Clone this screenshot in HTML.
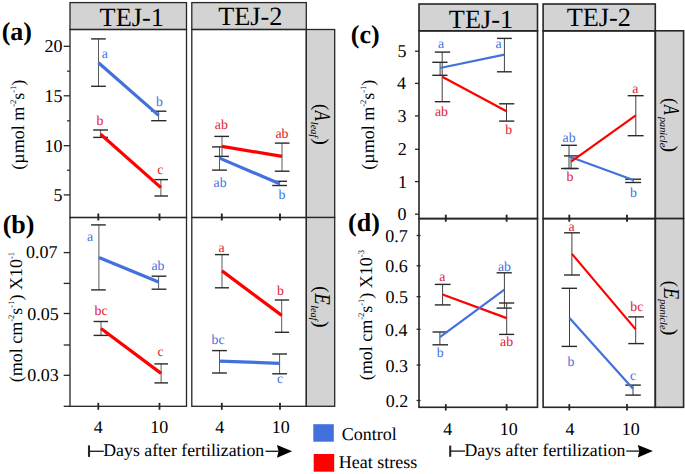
<!DOCTYPE html>
<html><head><meta charset="utf-8"><style>
html,body{margin:0;padding:0;background:#fff;width:685px;height:474px;overflow:hidden;}
svg{display:block;}
text{font-family:"Liberation Serif",serif;text-rendering:geometricPrecision;}
</style></head><body>
<svg width="685" height="474" viewBox="0 0 685 474">
<rect x="70" y="2.6" width="116.5" height="26.9" fill="#d3d3d3" stroke="#262626" stroke-width="1.3"/>
<rect x="191.8" y="2.6" width="114.5" height="26.9" fill="#d3d3d3" stroke="#262626" stroke-width="1.3"/>
<rect x="306.3" y="29.5" width="28.4" height="188" fill="#d3d3d3" stroke="#262626" stroke-width="1.3"/>
<rect x="306.3" y="217.5" width="28.4" height="188.8" fill="#d3d3d3" stroke="#262626" stroke-width="1.3"/>
<rect x="70" y="29.5" width="116.5" height="188" fill="none" stroke="#262626" stroke-width="1.3"/>
<rect x="70" y="217.5" width="116.5" height="188.8" fill="none" stroke="#262626" stroke-width="1.3"/>
<rect x="191.8" y="29.5" width="114.5" height="188" fill="none" stroke="#262626" stroke-width="1.3"/>
<rect x="191.8" y="217.5" width="114.5" height="188.8" fill="none" stroke="#262626" stroke-width="1.3"/>
<rect x="419" y="4" width="118.5" height="26.8" fill="#d3d3d3" stroke="#262626" stroke-width="1.6"/>
<rect x="543.1" y="4" width="112.2" height="26.8" fill="#d3d3d3" stroke="#262626" stroke-width="1.6"/>
<rect x="655.3" y="30.8" width="28.3" height="187.8" fill="#d3d3d3" stroke="#262626" stroke-width="1.6"/>
<rect x="655.3" y="218.6" width="28.3" height="188.7" fill="#d3d3d3" stroke="#262626" stroke-width="1.6"/>
<rect x="419" y="30.8" width="118.5" height="187.8" fill="none" stroke="#262626" stroke-width="1.6"/>
<rect x="419" y="218.6" width="118.5" height="188.7" fill="none" stroke="#262626" stroke-width="1.6"/>
<rect x="543.1" y="30.8" width="112.2" height="187.8" fill="none" stroke="#262626" stroke-width="1.6"/>
<rect x="543.1" y="218.6" width="112.2" height="188.7" fill="none" stroke="#262626" stroke-width="1.6"/>
<text x="99.62" y="26.4" font-size="26.3">TEJ-1</text>
<text x="218.22" y="24.7" font-size="26.3">TEJ-2</text>
<text x="448.82" y="28" font-size="26.3">TEJ-1</text>
<text x="566.72" y="25.9" font-size="26.3">TEJ-2</text>
<line x1="63.7" y1="46.3" x2="70" y2="46.3" stroke="#262626" stroke-width="1.3"/>
<text x="44.59" y="52.3" font-size="18">20</text>
<line x1="63.7" y1="95.8" x2="70" y2="95.8" stroke="#262626" stroke-width="1.3"/>
<text x="44.6" y="101.8" font-size="18">15</text>
<line x1="63.7" y1="145.7" x2="70" y2="145.7" stroke="#262626" stroke-width="1.3"/>
<text x="44.59" y="151.7" font-size="18">10</text>
<line x1="63.7" y1="194.9" x2="70" y2="194.9" stroke="#262626" stroke-width="1.3"/>
<text x="53.6" y="200.9" font-size="18">5</text>
<line x1="67" y1="71.2" x2="70" y2="71.2" stroke="#262626" stroke-width="1.2"/>
<line x1="67" y1="120.8" x2="70" y2="120.8" stroke="#262626" stroke-width="1.2"/>
<line x1="67" y1="170.2" x2="70" y2="170.2" stroke="#262626" stroke-width="1.2"/>
<line x1="63.7" y1="252.6" x2="70" y2="252.6" stroke="#262626" stroke-width="1.3"/>
<line x1="63.7" y1="283.4" x2="70" y2="283.4" stroke="#262626" stroke-width="1.3"/>
<line x1="63.7" y1="313.5" x2="70" y2="313.5" stroke="#262626" stroke-width="1.3"/>
<text x="27.2" y="319.5" font-size="18">0.05</text>
<line x1="63.7" y1="345" x2="70" y2="345" stroke="#262626" stroke-width="1.3"/>
<line x1="63.7" y1="375.3" x2="70" y2="375.3" stroke="#262626" stroke-width="1.3"/>
<text x="27.2" y="381.3" font-size="18">0.03</text>
<line x1="63.7" y1="406.3" x2="70" y2="406.3" stroke="#262626" stroke-width="1.3"/>
<line x1="415" y1="51.2" x2="419" y2="51.2" stroke="#262626" stroke-width="1.3"/>
<text x="397.5" y="57.2" font-size="18">5</text>
<line x1="415" y1="83.4" x2="419" y2="83.4" stroke="#262626" stroke-width="1.3"/>
<text x="397.08" y="89.4" font-size="18">4</text>
<line x1="415" y1="115.9" x2="419" y2="115.9" stroke="#262626" stroke-width="1.3"/>
<text x="397.5" y="121.9" font-size="18">3</text>
<line x1="415" y1="149.3" x2="419" y2="149.3" stroke="#262626" stroke-width="1.3"/>
<text x="397.79" y="155.3" font-size="18">2</text>
<line x1="415" y1="181.6" x2="419" y2="181.6" stroke="#262626" stroke-width="1.3"/>
<text x="397.88" y="187.6" font-size="18">1</text>
<line x1="415" y1="214.2" x2="419" y2="214.2" stroke="#262626" stroke-width="1.3"/>
<text x="397.49" y="220.2" font-size="18">0</text>
<line x1="416.6" y1="235.5" x2="420.5" y2="235.5" stroke="#262626" stroke-width="1.3"/>
<text x="385.32" y="242.1" font-size="18">0.7</text>
<line x1="416.6" y1="265.8" x2="420.5" y2="265.8" stroke="#262626" stroke-width="1.3"/>
<text x="385.34" y="272.4" font-size="18">0.6</text>
<line x1="416.6" y1="296.7" x2="420.5" y2="296.7" stroke="#262626" stroke-width="1.3"/>
<text x="385.5" y="303.3" font-size="18">0.5</text>
<line x1="416.6" y1="329.3" x2="420.5" y2="329.3" stroke="#262626" stroke-width="1.3"/>
<text x="385.08" y="335.9" font-size="18">0.4</text>
<line x1="416.6" y1="365" x2="420.5" y2="365" stroke="#262626" stroke-width="1.3"/>
<text x="385.5" y="371.6" font-size="18">0.3</text>
<line x1="416.6" y1="400.5" x2="420.5" y2="400.5" stroke="#262626" stroke-width="1.3"/>
<text x="385.79" y="407.1" font-size="18">0.2</text>
<text x="26.02" y="257.6" font-size="18">0.07</text>
<line x1="98.3" y1="213.5" x2="98.3" y2="220.5" stroke="#262626" stroke-width="1.9"/>
<line x1="98.3" y1="402.8" x2="98.3" y2="409.8" stroke="#262626" stroke-width="1.8"/>
<line x1="159.5" y1="213.5" x2="159.5" y2="220.5" stroke="#262626" stroke-width="1.9"/>
<line x1="159.5" y1="402.8" x2="159.5" y2="409.8" stroke="#262626" stroke-width="1.8"/>
<line x1="221.8" y1="213.5" x2="221.8" y2="220.5" stroke="#262626" stroke-width="1.9"/>
<line x1="221.8" y1="402.8" x2="221.8" y2="409.8" stroke="#262626" stroke-width="1.8"/>
<line x1="280" y1="213.5" x2="280" y2="220.5" stroke="#262626" stroke-width="1.9"/>
<line x1="280" y1="402.8" x2="280" y2="409.8" stroke="#262626" stroke-width="1.8"/>
<line x1="445.8" y1="214.7" x2="445.8" y2="221.7" stroke="#262626" stroke-width="1.9"/>
<line x1="445.8" y1="404.1" x2="445.8" y2="410.5" stroke="#262626" stroke-width="1.8"/>
<line x1="506.6" y1="214.7" x2="506.6" y2="221.7" stroke="#262626" stroke-width="1.9"/>
<line x1="506.6" y1="404.1" x2="506.6" y2="410.5" stroke="#262626" stroke-width="1.8"/>
<line x1="569.3" y1="214.7" x2="569.3" y2="221.7" stroke="#262626" stroke-width="1.9"/>
<line x1="569.3" y1="404.1" x2="569.3" y2="410.5" stroke="#262626" stroke-width="1.8"/>
<line x1="627" y1="214.7" x2="627" y2="221.7" stroke="#262626" stroke-width="1.9"/>
<line x1="627" y1="404.1" x2="627" y2="410.5" stroke="#262626" stroke-width="1.8"/>
<text x="93.86" y="433.4" font-size="18">4</text>
<text x="215.36" y="433.4" font-size="18">4</text>
<text x="150.25" y="433.4" font-size="18">10</text>
<text x="271.85" y="433.4" font-size="18">10</text>
<text x="443.26" y="434.6" font-size="18">4</text>
<text x="565.46" y="434.6" font-size="18">4</text>
<text x="499.85" y="434.6" font-size="18">10</text>
<text x="621.75" y="434.6" font-size="18">10</text>
<line x1="89" y1="445.4" x2="89" y2="456.9" stroke="#262626" stroke-width="2.1"/>
<line x1="89" y1="451.3" x2="103.8" y2="451.3" stroke="#262626" stroke-width="1.4"/>
<text x="103.29" y="455.6" font-size="17.8">Days after fertilization</text>
<line x1="265.5" y1="451.3" x2="278.5" y2="451.3" stroke="#262626" stroke-width="1.4"/>
<polygon points="277,444.9 292.1,451.3 277,457.7 278.5,451.3" fill="#000"/>
<line x1="450.2" y1="445.6" x2="450.2" y2="456.8" stroke="#262626" stroke-width="2.1"/>
<line x1="450.2" y1="451.1" x2="465" y2="451.1" stroke="#262626" stroke-width="1.4"/>
<text x="464.49" y="455.5" font-size="17.8">Days after fertilization</text>
<line x1="626.3" y1="451.1" x2="639.3" y2="451.1" stroke="#262626" stroke-width="1.4"/>
<polygon points="637.8,445.1 652.9,451.1 637.8,457.6 639.3,451.1" fill="#000"/>
<line x1="98.5" y1="38.9" x2="98.5" y2="86.3" stroke="#5a5a5a" stroke-width="1.0"/>
<line x1="91.1" y1="38.9" x2="105.8" y2="38.9" stroke="#2a2a2a" stroke-width="1.4"/>
<line x1="91.1" y1="86.3" x2="105.8" y2="86.3" stroke="#2a2a2a" stroke-width="1.4"/>
<line x1="158.6" y1="111.2" x2="158.6" y2="120.7" stroke="#5a5a5a" stroke-width="1.0"/>
<line x1="151.2" y1="111.2" x2="166.4" y2="111.2" stroke="#2a2a2a" stroke-width="1.4"/>
<line x1="151.2" y1="120.7" x2="166.4" y2="120.7" stroke="#2a2a2a" stroke-width="1.4"/>
<line x1="100.6" y1="130" x2="100.6" y2="137.4" stroke="#5a5a5a" stroke-width="1.0"/>
<line x1="93.2" y1="130" x2="108" y2="130" stroke="#2a2a2a" stroke-width="1.4"/>
<line x1="93.2" y1="137.4" x2="108" y2="137.4" stroke="#2a2a2a" stroke-width="1.4"/>
<line x1="160.9" y1="179.6" x2="160.9" y2="196" stroke="#5a5a5a" stroke-width="1.0"/>
<line x1="154.4" y1="179.6" x2="168" y2="179.6" stroke="#2a2a2a" stroke-width="1.4"/>
<line x1="154.4" y1="196" x2="168" y2="196" stroke="#2a2a2a" stroke-width="1.4"/>
<polyline points="98.5,62.7 158.6,115.4" fill="none" stroke="#4271dd" stroke-width="3.2"/>
<polyline points="100.6,134.3 160.9,187.6" fill="none" stroke="#ff0000" stroke-width="3.2"/>
<line x1="219.5" y1="146.9" x2="219.5" y2="170.1" stroke="#5a5a5a" stroke-width="1.0"/>
<line x1="212.1" y1="146.9" x2="226.9" y2="146.9" stroke="#2a2a2a" stroke-width="1.4"/>
<line x1="212.1" y1="170.1" x2="226.9" y2="170.1" stroke="#2a2a2a" stroke-width="1.4"/>
<line x1="222" y1="136.4" x2="222" y2="156.4" stroke="#5a5a5a" stroke-width="1.0"/>
<line x1="214.3" y1="136.4" x2="229" y2="136.4" stroke="#2a2a2a" stroke-width="1.4"/>
<line x1="214.3" y1="156.4" x2="229" y2="156.4" stroke="#2a2a2a" stroke-width="1.4"/>
<line x1="282" y1="143.1" x2="282" y2="171.2" stroke="#5a5a5a" stroke-width="1.0"/>
<line x1="274.8" y1="143.1" x2="289.5" y2="143.1" stroke="#2a2a2a" stroke-width="1.4"/>
<line x1="274.8" y1="171.2" x2="289.5" y2="171.2" stroke="#2a2a2a" stroke-width="1.4"/>
<line x1="279.6" y1="181.3" x2="279.6" y2="185.5" stroke="#5a5a5a" stroke-width="1.0"/>
<line x1="272.2" y1="181.3" x2="287" y2="181.3" stroke="#2a2a2a" stroke-width="1.4"/>
<line x1="272.2" y1="185.5" x2="287" y2="185.5" stroke="#2a2a2a" stroke-width="1.4"/>
<polyline points="219.5,158.1 279.6,183.8" fill="none" stroke="#4271dd" stroke-width="3.2"/>
<polyline points="222,146.3 282,156.4" fill="none" stroke="#ff0000" stroke-width="3.2"/>
<line x1="98.9" y1="224.9" x2="98.9" y2="289.9" stroke="#5a5a5a" stroke-width="1.0"/>
<line x1="91.1" y1="224.9" x2="105.8" y2="224.9" stroke="#2a2a2a" stroke-width="1.4"/>
<line x1="91.1" y1="289.9" x2="105.8" y2="289.9" stroke="#2a2a2a" stroke-width="1.4"/>
<line x1="158.6" y1="276.2" x2="158.6" y2="289.2" stroke="#5a5a5a" stroke-width="1.0"/>
<line x1="151.6" y1="276.2" x2="166.4" y2="276.2" stroke="#2a2a2a" stroke-width="1.4"/>
<line x1="151.6" y1="289.2" x2="166.4" y2="289.2" stroke="#2a2a2a" stroke-width="1.4"/>
<line x1="101" y1="321.5" x2="101" y2="335.4" stroke="#5a5a5a" stroke-width="1.0"/>
<line x1="93.6" y1="321.5" x2="108" y2="321.5" stroke="#2a2a2a" stroke-width="1.4"/>
<line x1="93.6" y1="335.4" x2="108" y2="335.4" stroke="#2a2a2a" stroke-width="1.4"/>
<line x1="161.1" y1="363.9" x2="161.1" y2="382.9" stroke="#5a5a5a" stroke-width="1.0"/>
<line x1="154.4" y1="363.9" x2="168" y2="363.9" stroke="#2a2a2a" stroke-width="1.4"/>
<line x1="154.4" y1="382.9" x2="168" y2="382.9" stroke="#2a2a2a" stroke-width="1.4"/>
<polyline points="98.9,257.6 158.6,282.1" fill="none" stroke="#4271dd" stroke-width="3.2"/>
<polyline points="101,328.5 161.1,373.4" fill="none" stroke="#ff0000" stroke-width="3.2"/>
<line x1="222" y1="254.6" x2="222" y2="287.8" stroke="#5a5a5a" stroke-width="1.0"/>
<line x1="214.9" y1="254.6" x2="229" y2="254.6" stroke="#2a2a2a" stroke-width="1.4"/>
<line x1="214.9" y1="287.8" x2="229" y2="287.8" stroke="#2a2a2a" stroke-width="1.4"/>
<line x1="281.7" y1="300" x2="281.7" y2="332.3" stroke="#5a5a5a" stroke-width="1.0"/>
<line x1="274.8" y1="300" x2="289.1" y2="300" stroke="#2a2a2a" stroke-width="1.4"/>
<line x1="274.8" y1="332.3" x2="289.1" y2="332.3" stroke="#2a2a2a" stroke-width="1.4"/>
<line x1="219.5" y1="350.6" x2="219.5" y2="373" stroke="#5a5a5a" stroke-width="1.0"/>
<line x1="212.1" y1="350.6" x2="226.9" y2="350.6" stroke="#2a2a2a" stroke-width="1.4"/>
<line x1="212.1" y1="373" x2="226.9" y2="373" stroke="#2a2a2a" stroke-width="1.4"/>
<line x1="279.6" y1="354" x2="279.6" y2="373.8" stroke="#5a5a5a" stroke-width="1.0"/>
<line x1="272.2" y1="354" x2="287" y2="354" stroke="#2a2a2a" stroke-width="1.4"/>
<line x1="272.2" y1="373.8" x2="287" y2="373.8" stroke="#2a2a2a" stroke-width="1.4"/>
<polyline points="222,270.9 281.7,315.4" fill="none" stroke="#ff0000" stroke-width="3.2"/>
<polyline points="219.5,361.2 279.6,363.3" fill="none" stroke="#4271dd" stroke-width="3.2"/>
<line x1="440.1" y1="62.3" x2="440.1" y2="75.3" stroke="#404040" stroke-width="1.0"/>
<line x1="432.3" y1="62.3" x2="447.5" y2="62.3" stroke="#2a2a2a" stroke-width="1.4"/>
<line x1="432.3" y1="75.3" x2="447.5" y2="75.3" stroke="#2a2a2a" stroke-width="1.4"/>
<line x1="442.2" y1="52.1" x2="442.2" y2="101.7" stroke="#404040" stroke-width="1.0"/>
<line x1="434.8" y1="52.1" x2="450.2" y2="52.1" stroke="#2a2a2a" stroke-width="1.4"/>
<line x1="434.8" y1="101.7" x2="450.2" y2="101.7" stroke="#2a2a2a" stroke-width="1.4"/>
<line x1="504.4" y1="38.4" x2="504.4" y2="71.8" stroke="#404040" stroke-width="1.0"/>
<line x1="497" y1="38.4" x2="511.8" y2="38.4" stroke="#2a2a2a" stroke-width="1.4"/>
<line x1="497" y1="71.8" x2="511.8" y2="71.8" stroke="#2a2a2a" stroke-width="1.4"/>
<line x1="506.5" y1="103.8" x2="506.5" y2="121.1" stroke="#404040" stroke-width="1.0"/>
<line x1="499.1" y1="103.8" x2="514.3" y2="103.8" stroke="#2a2a2a" stroke-width="1.4"/>
<line x1="499.1" y1="121.1" x2="514.3" y2="121.1" stroke="#2a2a2a" stroke-width="1.4"/>
<polyline points="440.1,68 504.4,54.7" fill="none" stroke="#4271dd" stroke-width="2.2"/>
<polyline points="442.2,76.8 506.5,111.2" fill="none" stroke="#ff0000" stroke-width="2.2"/>
<line x1="569" y1="145.3" x2="569" y2="168.5" stroke="#404040" stroke-width="1.0"/>
<line x1="561" y1="145.3" x2="576.9" y2="145.3" stroke="#2a2a2a" stroke-width="1.4"/>
<line x1="561" y1="168.5" x2="576.9" y2="168.5" stroke="#2a2a2a" stroke-width="1.4"/>
<line x1="571.1" y1="155.9" x2="571.1" y2="168.5" stroke="#404040" stroke-width="1.0"/>
<line x1="564" y1="155.9" x2="578.8" y2="155.9" stroke="#2a2a2a" stroke-width="1.4"/>
<line x1="564" y1="168.5" x2="578.8" y2="168.5" stroke="#2a2a2a" stroke-width="1.4"/>
<line x1="635.8" y1="95.7" x2="635.8" y2="135.7" stroke="#404040" stroke-width="1.0"/>
<line x1="627.7" y1="95.7" x2="643.6" y2="95.7" stroke="#2a2a2a" stroke-width="1.4"/>
<line x1="627.7" y1="135.7" x2="643.6" y2="135.7" stroke="#2a2a2a" stroke-width="1.4"/>
<line x1="633.2" y1="179.2" x2="633.2" y2="182.5" stroke="#404040" stroke-width="1.0"/>
<line x1="625.1" y1="179.2" x2="641.1" y2="179.2" stroke="#2a2a2a" stroke-width="1.4"/>
<line x1="625.1" y1="182.5" x2="641.1" y2="182.5" stroke="#2a2a2a" stroke-width="1.4"/>
<polyline points="569,156.5 633.2,180" fill="none" stroke="#4271dd" stroke-width="2.2"/>
<polyline points="571.1,161.6 635.8,115.4" fill="none" stroke="#ff0000" stroke-width="2.2"/>
<line x1="442.6" y1="284.4" x2="442.6" y2="304.9" stroke="#404040" stroke-width="1.0"/>
<line x1="434.8" y1="284.4" x2="450.6" y2="284.4" stroke="#2a2a2a" stroke-width="1.4"/>
<line x1="434.8" y1="304.9" x2="450.6" y2="304.9" stroke="#2a2a2a" stroke-width="1.4"/>
<line x1="439.9" y1="332" x2="439.9" y2="344.8" stroke="#404040" stroke-width="1.0"/>
<line x1="432.5" y1="332" x2="448" y2="332" stroke="#2a2a2a" stroke-width="1.4"/>
<line x1="432.5" y1="344.8" x2="448" y2="344.8" stroke="#2a2a2a" stroke-width="1.4"/>
<line x1="504.4" y1="272.8" x2="504.4" y2="308.1" stroke="#404040" stroke-width="1.0"/>
<line x1="496.6" y1="272.8" x2="511.8" y2="272.8" stroke="#2a2a2a" stroke-width="1.4"/>
<line x1="496.6" y1="308.1" x2="511.8" y2="308.1" stroke="#2a2a2a" stroke-width="1.4"/>
<line x1="506.7" y1="303" x2="506.7" y2="334.4" stroke="#404040" stroke-width="1.0"/>
<line x1="499.1" y1="303" x2="514.2" y2="303" stroke="#2a2a2a" stroke-width="1.4"/>
<line x1="499.1" y1="334.4" x2="514.2" y2="334.4" stroke="#2a2a2a" stroke-width="1.4"/>
<polyline points="442.6,294.5 506.7,318.1" fill="none" stroke="#ff0000" stroke-width="2.2"/>
<polyline points="439.9,337.1 504.4,289.7" fill="none" stroke="#4271dd" stroke-width="2.2"/>
<line x1="571.9" y1="232.8" x2="571.9" y2="275" stroke="#404040" stroke-width="1.0"/>
<line x1="564.1" y1="232.8" x2="579.9" y2="232.8" stroke="#2a2a2a" stroke-width="1.4"/>
<line x1="564.1" y1="275" x2="579.9" y2="275" stroke="#2a2a2a" stroke-width="1.4"/>
<line x1="569.5" y1="288.3" x2="569.5" y2="346.4" stroke="#404040" stroke-width="1.0"/>
<line x1="561.6" y1="288.3" x2="577" y2="288.3" stroke="#2a2a2a" stroke-width="1.4"/>
<line x1="561.6" y1="346.4" x2="577" y2="346.4" stroke="#2a2a2a" stroke-width="1.4"/>
<line x1="635.7" y1="316.9" x2="635.7" y2="343.6" stroke="#404040" stroke-width="1.0"/>
<line x1="628.3" y1="316.9" x2="643.9" y2="316.9" stroke="#2a2a2a" stroke-width="1.4"/>
<line x1="628.3" y1="343.6" x2="643.9" y2="343.6" stroke="#2a2a2a" stroke-width="1.4"/>
<line x1="633" y1="385.1" x2="633" y2="395.1" stroke="#404040" stroke-width="1.0"/>
<line x1="625.3" y1="385.1" x2="640.8" y2="385.1" stroke="#2a2a2a" stroke-width="1.4"/>
<line x1="625.3" y1="395.1" x2="640.8" y2="395.1" stroke="#2a2a2a" stroke-width="1.4"/>
<polyline points="571.9,253.9 635.7,329.4" fill="none" stroke="#ff0000" stroke-width="2.2"/>
<polyline points="569.5,317.9 633,388.8" fill="none" stroke="#4271dd" stroke-width="2.2"/>
<text x="101.79" y="58.3" font-size="13.8" fill="#4271dd">a</text>
<text x="156.06" y="105.8" font-size="13.8" fill="#4271dd">b</text>
<text x="96.51" y="124.6" font-size="13.8" fill="#e0202e">b</text>
<text x="157.24" y="174.1" font-size="13.8" fill="#e0202e">c</text>
<text x="214.86" y="128.5" font-size="13.8" fill="#e0202e">ab</text>
<text x="275.41" y="138.1" font-size="13.8" fill="#e0202e">ab</text>
<text x="213.56" y="186.6" font-size="13.8" fill="#4271dd">ab</text>
<text x="278.56" y="198.8" font-size="13.8" fill="#4271dd">b</text>
<text x="87.04" y="240.5" font-size="13.8" fill="#4271dd">a</text>
<text x="151.46" y="270.2" font-size="13.8" fill="#4271dd">ab</text>
<text x="94.6" y="315" font-size="13.8" fill="#e0202e">bc</text>
<text x="157.54" y="356.3" font-size="13.8" fill="#e0202e">c</text>
<text x="218.44" y="251.7" font-size="13.8" fill="#e0202e">a</text>
<text x="276.96" y="294.9" font-size="13.8" fill="#e0202e">b</text>
<text x="211.6" y="344.1" font-size="13.8" fill="#4271dd">bc</text>
<text x="277.04" y="382.5" font-size="13.8" fill="#4271dd">c</text>
<text x="437.94" y="47.7" font-size="13.8" fill="#4271dd">a</text>
<text x="495.39" y="47.7" font-size="13.8" fill="#4271dd">a</text>
<text x="434.96" y="116.3" font-size="13.8" fill="#e0202e">ab</text>
<text x="505.21" y="134.2" font-size="13.8" fill="#e0202e">b</text>
<text x="562.61" y="141.9" font-size="13.8" fill="#4271dd">ab</text>
<text x="566.41" y="181.1" font-size="13.8" fill="#e0202e">b</text>
<text x="632.24" y="92.5" font-size="13.8" fill="#e0202e">a</text>
<text x="630.11" y="196.8" font-size="13.8" fill="#4271dd">b</text>
<text x="439.34" y="280.6" font-size="13.8" fill="#e0202e">a</text>
<text x="497.91" y="270.5" font-size="13.8" fill="#4271dd">ab</text>
<text x="436.81" y="356.7" font-size="13.8" fill="#4271dd">b</text>
<text x="500.11" y="346.2" font-size="13.8" fill="#e0202e">ab</text>
<text x="568.59" y="230.9" font-size="13.8" fill="#e0202e">a</text>
<text x="630.25" y="310.8" font-size="13.8" fill="#e0202e">bc</text>
<text x="567.51" y="365.9" font-size="13.8" fill="#4271dd">b</text>
<text x="630.04" y="379.8" font-size="13.8" fill="#4271dd">c</text>
<text x="1.66" y="39.7" font-size="26" font-weight="bold">(a)</text>
<text x="2.66" y="233.2" font-size="26" font-weight="bold">(b)</text>
<text x="350.76" y="43.3" font-size="26" font-weight="bold">(c)</text>
<text x="348.06" y="230.8" font-size="26" font-weight="bold">(d)</text>
<text transform="translate(24.2,124.7) rotate(-90)" font-size="18" text-anchor="middle">(µmol m<tspan font-size="8.5" dy="-8.3">-2</tspan><tspan dy="8.3">s<tspan font-size="8.5" dy="-8.3">-1</tspan><tspan dy="8.3">)</tspan></tspan></text>
<text transform="translate(21.8,317.1) rotate(-90)" font-size="18" text-anchor="middle">(mol cm<tspan font-size="8.5" dy="-8.3">-2</tspan><tspan dy="8.3">s<tspan font-size="8.5" dy="-8.3">-1</tspan><tspan dy="8.3">) X10<tspan font-size="8.5" dy="-8.3">-1</tspan><tspan dy="8.3"></tspan></tspan></tspan></text>
<text transform="translate(374,124.7) rotate(-90)" font-size="18" text-anchor="middle">(µmol m<tspan font-size="8.5" dy="-8.3">-2</tspan><tspan dy="8.3">s<tspan font-size="8.5" dy="-8.3">-1</tspan><tspan dy="8.3">)</tspan></tspan></text>
<text transform="translate(372,315.2) rotate(-90)" font-size="18" text-anchor="middle">(mol cm<tspan font-size="8.5" dy="-8.3">-2</tspan><tspan dy="8.3">s<tspan font-size="8.5" dy="-8.3">-1</tspan><tspan dy="8.3">) X10<tspan font-size="8.5" dy="-8.3">-3</tspan><tspan dy="8.3"></tspan></tspan></tspan></text>
<text transform="translate(315.2,103.83) rotate(90)" font-size="19.8">(</text>
<text transform="translate(314.7,110.69) rotate(90) scale(0.72,1)" font-size="22.6" font-style="italic">A</text>
<text transform="translate(311.3,121.85) rotate(90)" font-size="10.3" font-style="italic">leaf</text>
<text transform="translate(315.2,138.26) rotate(90)" font-size="19.8">)</text>
<text transform="translate(315.2,285.93) rotate(90)" font-size="19.8">(</text>
<text transform="translate(314.7,293.32) rotate(90) scale(0.83,1)" font-size="22.6" font-style="italic">E</text>
<text transform="translate(311.3,305.15) rotate(90)" font-size="10.3" font-style="italic">leaf</text>
<text transform="translate(315.2,320.96) rotate(90)" font-size="19.8">)</text>
<text transform="translate(664,97.83) rotate(90)" font-size="19.8">(</text>
<text transform="translate(663.5,105.07) rotate(90) scale(0.7,1)" font-size="22.6" font-style="italic">A</text>
<text transform="translate(660.4,116.9) rotate(90)" font-size="10.3" font-style="italic">panicle</text>
<text transform="translate(664,145.56) rotate(90)" font-size="19.8">)</text>
<text transform="translate(664,280.43) rotate(90)" font-size="19.8">(</text>
<text transform="translate(663.5,287.82) rotate(90) scale(0.82,1)" font-size="22.6" font-style="italic">E</text>
<text transform="translate(660.4,299.2) rotate(90)" font-size="10.3" font-style="italic">panicle</text>
<text transform="translate(664,328.76) rotate(90)" font-size="19.8">)</text>
<rect x="313.3" y="424.2" width="20.5" height="17.5" fill="#4271dd"/>
<rect x="313.7" y="454" width="20.5" height="17.7" fill="#ff0000"/>
<text x="341.66" y="439.7" font-size="18">Control</text>
<text x="338.78" y="468" font-size="18">Heat stress</text>
</svg></body></html>
